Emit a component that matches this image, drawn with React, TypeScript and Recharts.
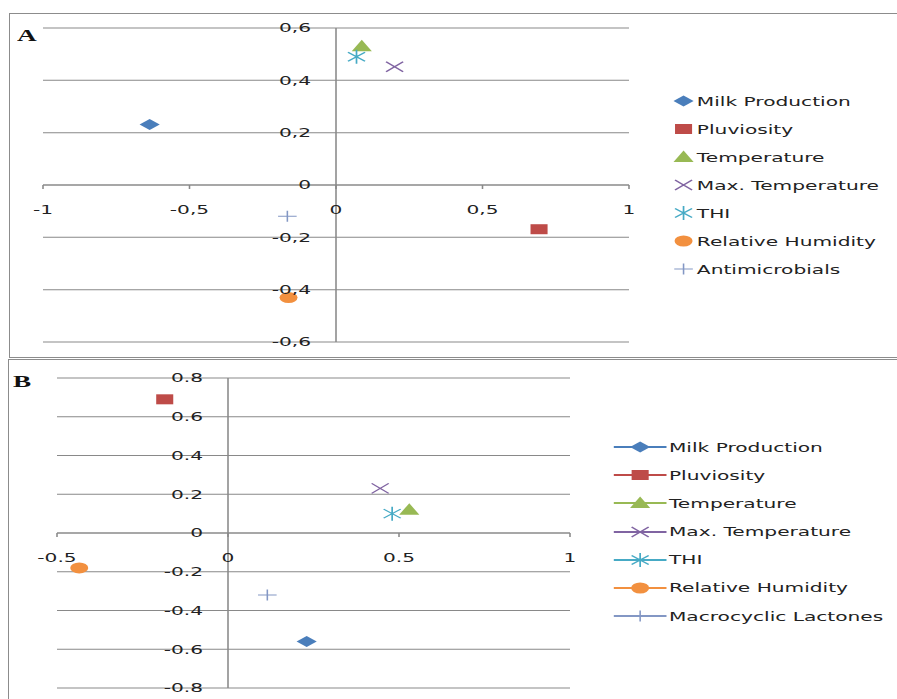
import React from 'react';
import { ScatterChart, Scatter, XAxis, YAxis, CartesianGrid, ReferenceLine, Legend } from 'recharts';

// Panel A: correlations with antimicrobial use
const namesA = ['Milk Production', 'Pluviosity', 'Temperature', 'Max. Temperature', 'THI', 'Relative Humidity', 'Antimicrobials'];
const xA = [-0.636, 0.693, 0.088, 0.2, 0.07, -0.162, -0.166];
const yA = [0.231, -0.169, 0.53, 0.452, 0.49, -0.43, -0.119];
const xTicksA = [-1, -0.5, 0, 0.5, 1];
const yTicksA = [-0.6, -0.4, -0.2, 0, 0.2, 0.4, 0.6];

// Panel B: correlations with macrocyclic lactone use
const namesB = ['Milk Production', 'Pluviosity', 'Temperature', 'Max. Temperature', 'THI', 'Relative Humidity', 'Macrocyclic Lactones'];
const xB = [0.23, -0.185, 0.53, 0.445, 0.48, -0.435, 0.115];
const yB = [-0.56, 0.69, 0.12, 0.23, 0.1, -0.18, -0.32];
const xTicksB = [-0.5, 0, 0.5, 1];
const yTicksB = [-0.8, -0.6, -0.4, -0.2, 0, 0.2, 0.4, 0.6, 0.8];

const SX = 1.55; // the whole figure is drawn stretched horizontally
const W = 579; // chart width before stretching
const GRID = '#898989';
const FONT = '"DejaVu Sans", Verdana, sans-serif';
const COLORS = ['#4a7ebb', '#be4b48', '#98b954', '#8064a2', '#46aac5', '#f2903f', '#8397c4'];
const SHAPES = ['diamond', 'square', 'triangle', 'cross', 'star', 'circle', 'plus'];

function marker(kind: string, cx: number, cy: number, color: string) {
  switch (kind) {
    case 'diamond':
      return <polygon points={`${cx - 6.5},${cy} ${cx},${cy - 5.5} ${cx + 6.5},${cy} ${cx},${cy + 5.5}`} fill={color} />;
    case 'square':
      return <rect x={cx - 5.5} y={cy - 5} width={11} height={10} fill={color} />;
    case 'triangle':
      return <polygon points={`${cx - 6.5},${cy + 5} ${cx},${cy - 6.5} ${cx + 6.5},${cy + 5}`} fill={color} />;
    case 'cross':
      return (
        <path
          d={`M${cx - 5.5},${cy - 5}L${cx + 5.5},${cy + 5}M${cx - 5.5},${cy + 5}L${cx + 5.5},${cy - 5}`}
          stroke={color} strokeWidth={1.1} fill="none"
        />
      );
    case 'star':
      return (
        <path
          d={`M${cx - 5.5},${cy - 4.5}L${cx + 5.5},${cy + 4.5}M${cx - 5.5},${cy + 4.5}L${cx + 5.5},${cy - 4.5}M${cx},${cy - 7}V${cy + 7}`}
          stroke={color} strokeWidth={1.1} fill="none"
        />
      );
    case 'circle':
      return <ellipse cx={cx} cy={cy} rx={5.8} ry={5.5} fill={color} />;
    default:
      return <path d={`M${cx - 6},${cy}H${cx + 6}M${cx},${cy - 5.5}V${cy + 5.5}`} stroke={color} strokeWidth={1} fill="none" />;
  }
}

type LegendCfg = { left: number; top: number; row: number; icon: number; gap: number; line: boolean };

type PanelProps = {
  top: number;
  height: number;
  margin: { top: number; right: number; bottom: number; left: number };
  xDomain: [number, number];
  yDomain: [number, number];
  xTicks: number[];
  yTicks: number[];
  names: string[];
  xs: number[];
  ys: number[];
  comma: boolean;
  legend: LegendCfg;
};

// axes take 1px each so that they still render their (custom) ticks
const AXIS = 1;

function Panel({ top, height, margin, xDomain, yDomain, xTicks, yTicks, names, xs, ys, comma, legend }: PanelProps) {
  const left = margin.left + AXIS;
  const bottom = margin.bottom + AXIS;
  const plotW = W - left - margin.right;
  const plotH = height - margin.top - bottom;
  // axes cross at (0, 0) inside the plot
  const zeroX = left + (plotW * (0 - xDomain[0])) / (xDomain[1] - xDomain[0]);
  const zeroY = margin.top + (plotH * yDomain[1]) / (yDomain[1] - yDomain[0]);
  const fmt = (v: number) => (comma ? String(v).replace('.', ',') : String(v));

  const xTick = ({ x, payload }: any) => (
    <g>
      <line x1={x} x2={x} y1={zeroY} y2={zeroY + 4} stroke={GRID} />
      <text x={x} y={zeroY + 29.5} textAnchor="middle" fontFamily={FONT} fontSize={13} fill="#222">
        {fmt(payload.value)}
      </text>
    </g>
  );

  const yTick = ({ y, payload }: any) => (
    <text x={zeroX - 25 / SX} y={y + 4.5} textAnchor="end" fontFamily={FONT} fontSize={13} fill="#222">
      {fmt(payload.value)}
    </text>
  );

  const legendBox = () => (
    <div style={{ fontFamily: FONT, fontSize: 13, color: '#222' }}>
      {names.map((n, i) => (
        <div key={n} style={{ height: legend.row, display: 'flex', alignItems: 'center', whiteSpace: 'nowrap' }}>
          <svg width={legend.icon} height={16} style={{ flex: 'none', overflow: 'visible' }}>
            {legend.line && <line x1={0} x2={legend.icon} y1={8} y2={8} stroke={COLORS[i]} strokeWidth={2} />}
            {marker(SHAPES[i], legend.icon / 2, 8, COLORS[i])}
          </svg>
          <span style={{ marginLeft: legend.gap }}>{n}</span>
        </div>
      ))}
    </div>
  );

  return (
    <div style={{ position: 'absolute', left: 0, top, width: W, height, transform: `scaleX(${SX})`, transformOrigin: '0 0' }}>
      <ScatterChart width={W} height={height} margin={margin}>
        <CartesianGrid vertical={false} stroke={GRID} />
        <XAxis type="number" dataKey="x" domain={xDomain} ticks={xTicks} interval={0}
          axisLine={false} tickLine={false} height={AXIS} tick={xTick} />
        <YAxis type="number" dataKey="y" domain={yDomain} ticks={yTicks} interval={0}
          axisLine={false} tickLine={false} width={AXIS} tick={yTick} />
        <ReferenceLine y={0} stroke={GRID} />
        <ReferenceLine x={0} stroke={GRID} />
        {names.map((n, i) => (
          <Scatter
            key={n}
            name={n}
            data={[{ x: xs[i], y: ys[i] }]}
            isAnimationActive={false}
            shape={(p: any) => marker(SHAPES[i], p.cx, p.cy, COLORS[i])}
          />
        ))}
        <Legend
          layout="vertical"
          align="center"
          verticalAlign="middle"
          content={legendBox}
          wrapperStyle={{ left: legend.left, top: legend.top, width: 150 }}
        />
      </ScatterChart>
    </div>
  );
}

const letter: React.CSSProperties = {
  position: 'absolute',
  font: 'bold 17px "Liberation Serif", serif',
  lineHeight: 1,
  transform: 'scaleX(1.6)',
  transformOrigin: '0 0',
  color: '#111',
};

export default function App() {
  return (
    <div style={{ position: 'absolute', left: 0, top: 0, width: 897, height: 699, overflow: 'hidden', background: '#fff' }}>
      <div style={{ position: 'absolute', left: 9, top: 13, width: 920, height: 343, border: '1px solid #8c8c8c' }} />
      <div style={{ position: 'absolute', left: 8, top: 359, width: 920, height: 400, border: '1px solid #8c8c8c' }} />
      <span style={{ ...letter, left: 17, top: 27 }}>A</span>
      <span style={{ ...letter, left: 13, top: 373 }}>B</span>

      <Panel
        top={0}
        height={360}
        margin={{ top: 28, bottom: 18 - AXIS, left: 43 / SX - AXIS, right: W - 629 / SX }}
        xDomain={[-1, 1]}
        yDomain={[-0.6, 0.6]}
        xTicks={xTicksA}
        yTicks={yTicksA}
        names={namesA}
        xs={xA}
        ys={yA}
        comma
        legend={{ left: 433.6, top: 87, row: 28, icon: 14, gap: 2, line: false }}
      />
      <Panel
        top={360}
        height={339}
        margin={{ top: 18, bottom: 11 - AXIS, left: 57 / SX - AXIS, right: W - 570 / SX }}
        xDomain={[-0.5, 1]}
        yDomain={[-0.8, 0.8]}
        xTicks={xTicksB}
        yTicks={yTicksB}
        names={namesB}
        xs={xB}
        ys={yB}
        comma={false}
        legend={{ left: 396, top: 73, row: 28.17, icon: 34, gap: 1.6, line: true }}
      />
    </div>
  );
}
